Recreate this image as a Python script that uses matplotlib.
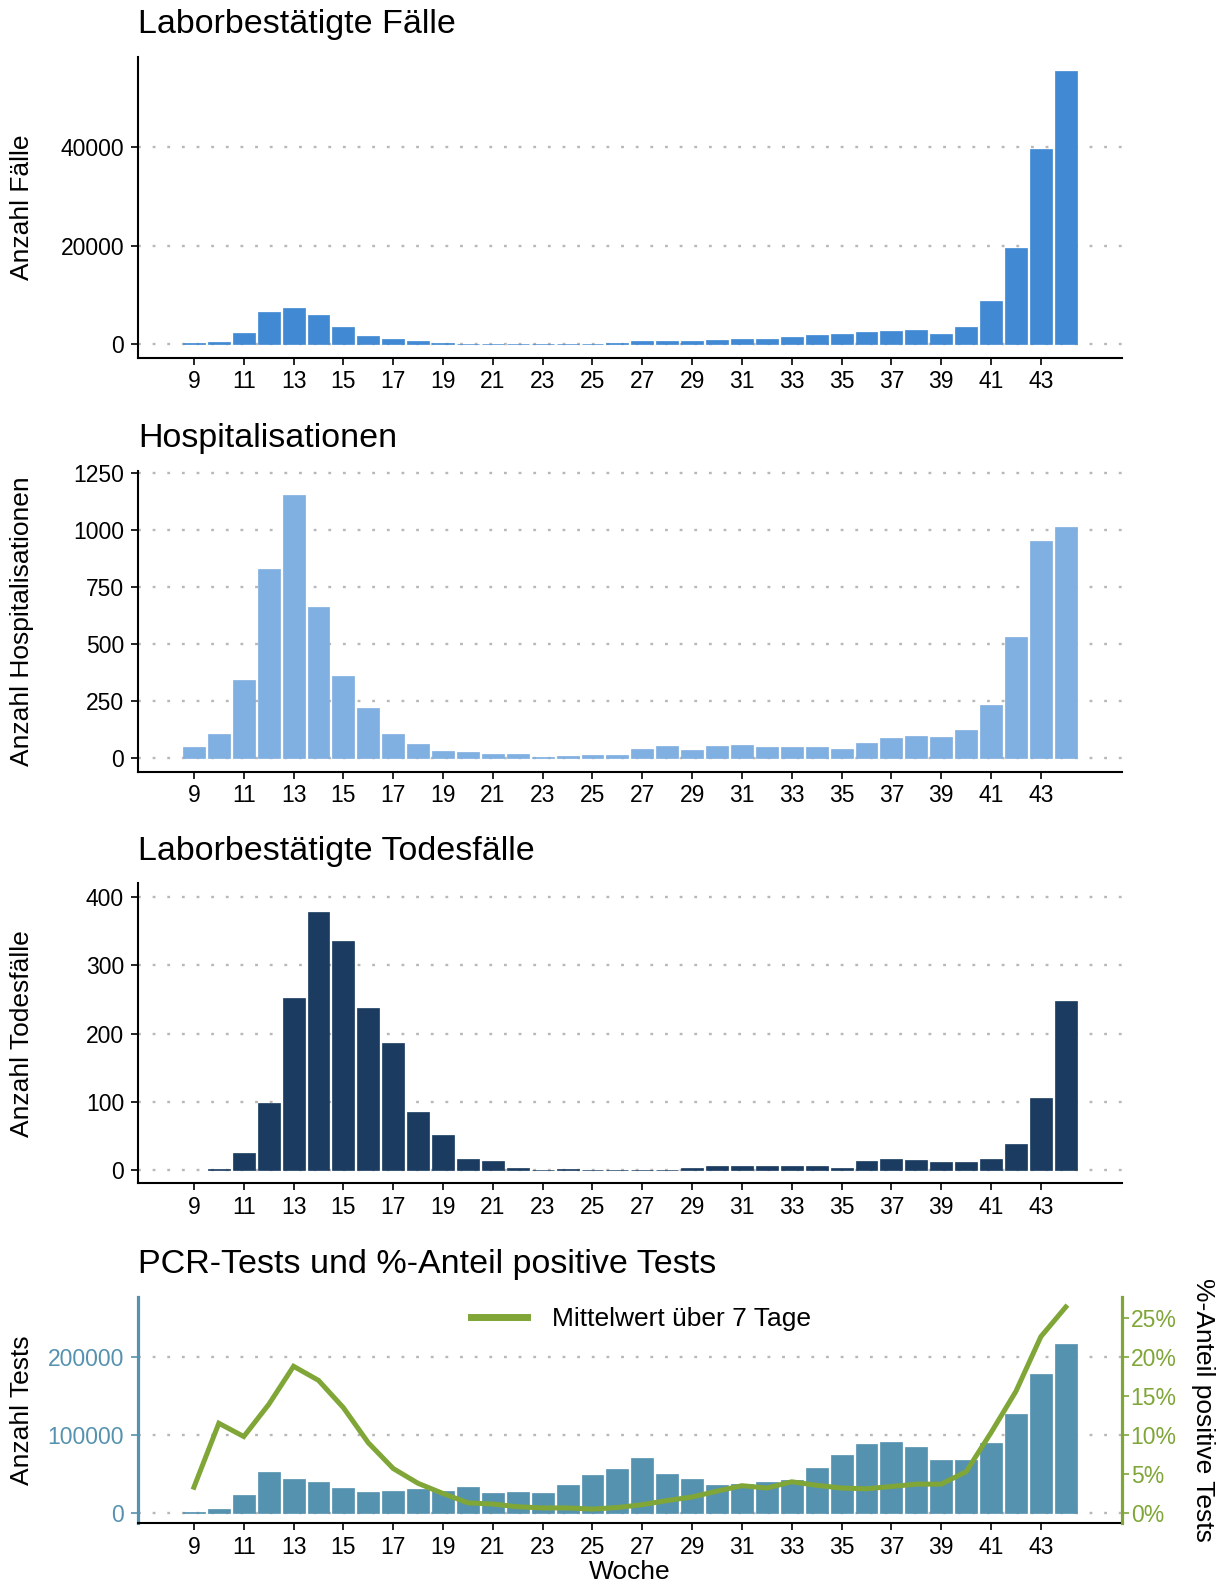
import matplotlib
matplotlib.use("Agg")
import matplotlib.pyplot as plt
from matplotlib.ticker import FuncFormatter

plt.rcParams['font.family'] = ['Liberation Sans', 'DejaVu Sans']

# ---------------- data ----------------
weeks = list(range(9, 45))

cases = [200, 400, 2200, 6500, 7300, 6000, 3600, 1750, 1100, 750, 350, 150,
         80, 80, 60, 60, 80, 350, 600, 600, 750, 820, 1100, 1100,
         1500, 1900, 2050, 2400, 2800, 2950, 2150, 3500, 8700, 19500, 39700, 55500]

hosp = [48, 106, 340, 827, 1153, 660, 359, 219, 104, 61, 29, 26,
        17, 17, 6, 7, 15, 15, 38, 52, 35, 54, 57, 48,
        48, 48, 39, 66, 87, 96, 93, 121, 232, 529, 948, 1010]

deaths = [0, 2, 25, 99, 252, 378, 335, 237, 186, 86, 52, 17,
          14, 3, 1, 2, 1, 1, 1, 1, 3, 6, 6, 6,
          6, 6, 3, 13, 17, 15, 12, 12, 17, 38, 106, 248]

tests = [1300, 5100, 23500, 52500, 44000, 40100, 32500, 26900, 28600, 30300, 28600, 33300,
         25200, 26900, 26000, 35900, 48700, 56800, 70000, 50000, 43100, 35900, 37600, 39300,
         42300, 58100, 74300, 88400, 91000, 84500, 68300, 68300, 89700, 127300, 177600, 216900]

pos_pct = [3.3, 11.5, 9.8, 13.9, 18.8, 17.0, 13.5, 9.0, 5.7, 3.8, 2.5, 1.3,
           1.15, 0.8, 0.65, 0.65, 0.5, 0.7, 1.07, 1.6, 2.05, 2.8, 3.5, 3.2,
           4.0, 3.55, 3.2, 3.1, 3.4, 3.7, 3.7, 5.3, 10.3, 15.6, 22.6, 26.4]

xticks = list(range(9, 45, 2))

titles = ["Laborbestätigte Fälle", "Hospitalisationen",
          "Laborbestätigte Todesfälle", "PCR-Tests und %-Anteil positive Tests"]
ylabels = ["Anzahl Fälle", "Anzahl Hospitalisationen", "Anzahl Todesfälle", "Anzahl Tests"]

# ---------------- style ----------------
W, H = 1220, 1588
C_CASES = "#4189D3"
C_HOSP = "#80AFE1"
C_DEATH = "#1B3C60"
C_TEST = "#5592AF"
C_GREEN = "#7FA637"
GRID = "#B8B8B8"

fig = plt.figure(figsize=(W / 100, H / 100), dpi=100)

left = 138 / W
width = (1121.7 - 138) / W


def frac_y(px):
    return 1 - px / H


panels = [
    (57, 358, cases, C_CASES, (-2775, 58275), [0, 20000, 40000], 33),
    (470.7, 771.7, hosp, C_HOSP, (-60, 1258), [0, 250, 500, 750, 1000, 1250], 447),
    (883.3, 1183.3, deaths, C_DEATH, (-19, 420), [0, 100, 200, 300, 400], 860),
    (1296.7, 1523.3, tests, C_TEST, (-13200, 277200), [0, 100000, 200000], 1273),
]

TICK_FS = 16.5
LAB_FS = 19
TITLE_FS = 24.5

axes = []
for i, (top, bot, vals, col, ylim, yt, tbase) in enumerate(panels):
    ax = fig.add_axes([left, frac_y(bot), width, (bot - top) / H])
    axes.append(ax)
    lws = [0 if v == 0 else 0.5 for v in vals]
    ax.bar(weeks, vals, width=0.88, color=col, edgecolor=col, linewidth=lws, zorder=2)
    ax.set_xlim(6.755, 46.245)
    ax.set_ylim(*ylim)
    ax.set_yticks(yt)
    ax.set_xticks(xticks)
    ax.set_xticklabels([str(x) for x in xticks])
    ax.set_yticklabels([str(v) for v in yt])
    for y in yt:
        ax.axhline(y, color=GRID, linestyle=(0, (1.2, 5.0)), linewidth=1.7, zorder=1)
    for s in ["top", "right"]:
        ax.spines[s].set_visible(False)
    ax.spines["bottom"].set_linewidth(1.5)
    ax.spines["left"].set_linewidth(1.5)
    ax.tick_params(axis="x", length=5, width=1.2, labelsize=TICK_FS, pad=4, colors="black")
    ax.tick_params(axis="y", length=5, width=1.2, labelsize=TICK_FS, pad=5, colors="black")
    ax.set_facecolor("none")
    # title
    fig.text(left, frac_y(tbase), titles[i], fontsize=TITLE_FS, ha="left", va="baseline")
    # y label
    fig.text(22 / W, frac_y((top + bot) / 2), ylabels[i], rotation=90,
             fontsize=LAB_FS, ha="center", va="center")

# ---------------- panel 4 extras ----------------
ax4 = axes[3]
ax4.spines["left"].set_color(C_TEST)
ax4.spines["left"].set_linewidth(2.3)
ax4.tick_params(axis="y", colors=C_TEST, labelcolor=C_TEST)
line_vals = [p * 10000 for p in pos_pct]
ln, = ax4.plot(weeks, line_vals, color=C_GREEN, linewidth=3.6, zorder=4,
               solid_joinstyle="miter", label="Mittelwert über 7 Tage")

ax4r = ax4.twinx()
lo, hi = ax4.get_ylim()
ax4r.set_ylim(lo / 10000, hi / 10000)
ax4r.set_yticks([0, 5, 10, 15, 20, 25])
ax4r.yaxis.set_major_formatter(FuncFormatter(lambda v, p: f"{int(round(v))}%"))
for s in ["top", "left", "bottom"]:
    ax4r.spines[s].set_visible(False)
ax4r.spines["right"].set_color(C_GREEN)
ax4r.spines["right"].set_linewidth(2.3)
ax4r.tick_params(axis="y", colors=C_GREEN, labelcolor=C_GREEN, length=5, width=1.2,
                 labelsize=TICK_FS, pad=1.5)

leg = ax4.legend(handles=[ln], loc="center left",
                 bbox_to_anchor=(471 / W, frac_y(1319)),
                 bbox_transform=fig.transFigure, frameon=False,
                 fontsize=LAB_FS, handlelength=2.12, handletextpad=0.95,
                 borderpad=0, borderaxespad=0)
for h in leg.legend_handles:
    h.set_linewidth(5)

fig.text(1203 / W, frac_y(1410), "%-Anteil positive Tests", rotation=270,
         fontsize=LAB_FS, ha="center", va="center")
fig.text(630 / W, frac_y(1572), "Woche", fontsize=LAB_FS, ha="center", va="center")

fig.savefig("out.png", dpi=100, facecolor="white")
